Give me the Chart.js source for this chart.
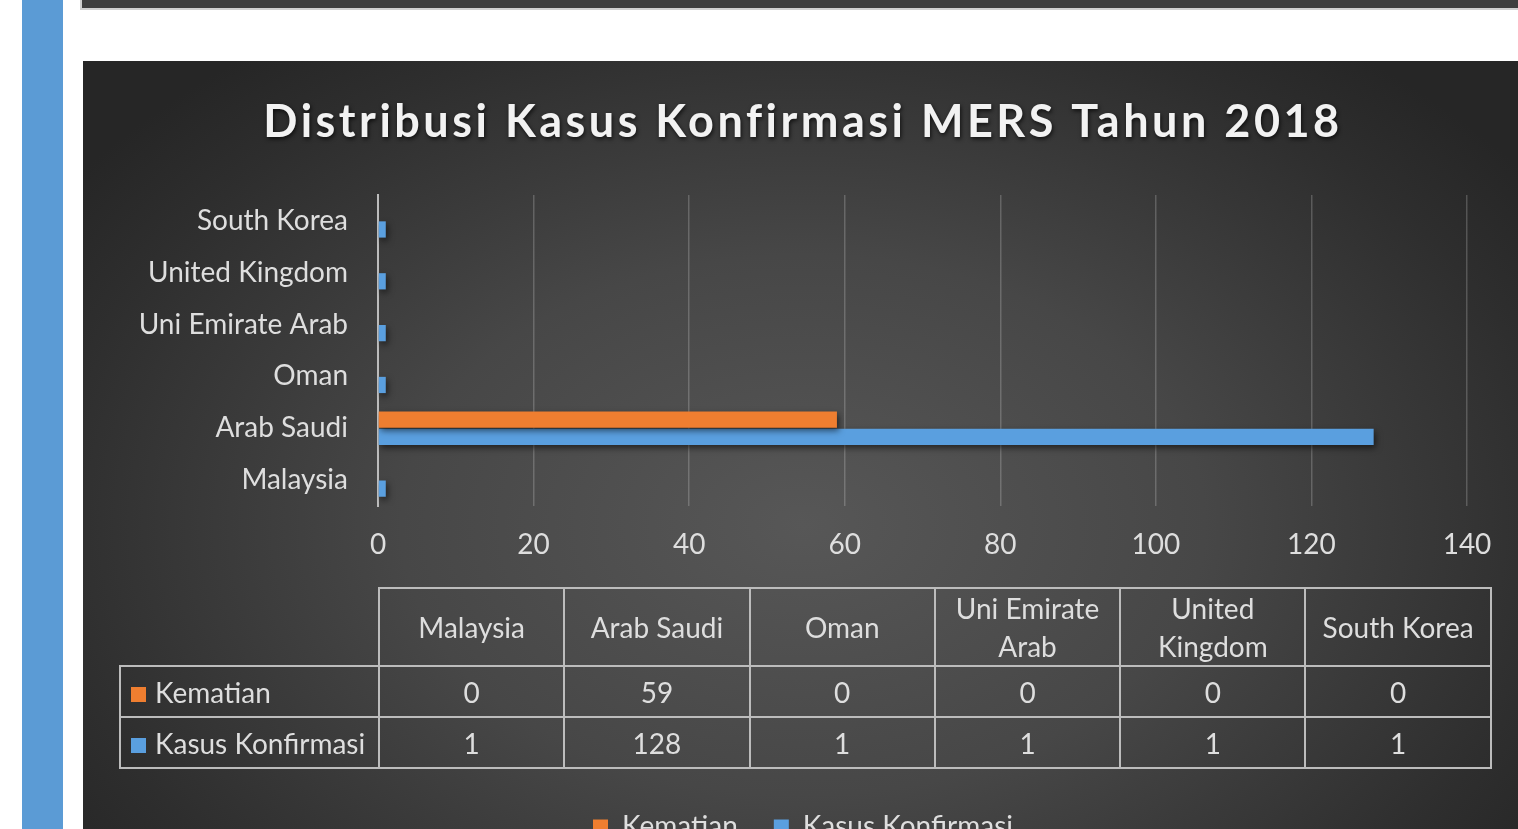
<!DOCTYPE html>
<html>
<head>
<meta charset="utf-8">
<script src="https://cdn.jsdelivr.net/npm/chart.js@4.4.0/dist/chart.umd.min.js"></script>
<style>
  html, body { margin: 0; padding: 0; background: #fff; width: 1518px; height: 829px; overflow: hidden; }
  .side { position: absolute; left: 22px; top: 0; width: 41px; height: 829px; background: #5b9bd5; }
  .topbar { position: absolute; left: 80px; top: 0; width: 1450px; height: 8px; background: #3e3e3e; border-left: 2px solid #cfcfcf; border-bottom: 2px solid #cfcfcf; }
  .panel {
    position: absolute; left: 83px; top: 61px; width: 1440px; height: 800px;
    background: radial-gradient(ellipse 62% 75% at 50% 58%, #575757 0%, #474747 45%, #2e2e2e 85%, #262626 100%);
  }
  .chart-box { position: absolute; left: 0; top: 0; width: 1440px; height: 790px; }
  #dataTable {
    position: absolute; left: 36px; top: 526px; width: 1371px;
    border-collapse: collapse; table-layout: fixed;
    font-family: Lato, 'Open Sans', sans-serif; font-size: 28px; color: #dedede;
  }
  #dataTable th, #dataTable td { border: 2px solid #bcbcbc; text-align: center; padding: 0 4px; font-weight: normal; line-height: 38px; }
  #dataTable th { height: 67px; }
  #dataTable td { height: 49px; }
  #dataTable td.blank { border: none; }
  #dataTable td.name { text-align: left; padding-left: 10px; white-space: nowrap; }
  .key { display: inline-block; width: 15px; height: 15px; margin-right: 9px; vertical-align: 1px; }
</style>
</head>
<body>
<div class="side"></div>
<div class="topbar"></div>
<div class="panel">
  <div class="chart-box"><canvas id="chart"></canvas></div>
  <table id="dataTable"></table>
</div>
<script>
const chartTitle = 'Distribusi Kasus Konfirmasi MERS Tahun 2018';
const countries = ['Malaysia', 'Arab Saudi', 'Oman', 'Uni Emirate Arab', 'United Kingdom', 'South Korea'];
const seriesNames = ['Kematian', 'Kasus Konfirmasi'];
const kematian = [0, 59, 0, 0, 0, 0];
const kasusKonfirmasi = [1, 128, 1, 1, 1, 1];
const xTicks = [0, 20, 40, 60, 80, 100, 120, 140];

const seriesColors = ['#ef7e30', '#5a9fdf'];
const FONT = "Lato, 'Open Sans', sans-serif";
const TEXT = '#dedede';

// data table under the chart, built from the same arrays
const table = document.getElementById('dataTable');
let rows = '<colgroup><col style="width:259px">' + countries.map(() => '<col style="width:185.3px">').join('') + '</colgroup>';
rows += '<tr><td class="blank"></td>' + countries.map(c => `<th>${c}</th>`).join('') + '</tr>';
[kematian, kasusKonfirmasi].forEach((vals, i) => {
  rows += `<tr><td class="name"><span class="key" style="background:${seriesColors[i]}"></span>${seriesNames[i]}</td>` +
    vals.map(v => `<td>${v}</td>`).join('') + '</tr>';
});
table.innerHTML = rows;

const barShadow = {
  id: 'barShadow',
  beforeDatasetsDraw(chart) {
    const ctx = chart.ctx;
    ctx.save();
    ctx.shadowColor = 'rgba(0,0,0,0.55)';
    ctx.shadowBlur = 6;
    ctx.shadowOffsetX = 2;
    ctx.shadowOffsetY = 3;
  },
  afterDatasetsDraw(chart) {
    chart.ctx.restore();
  }
};

const spacedTitle = {
  id: 'spacedTitle',
  afterLayout(chart) {
    const t = chart.titleBlock;
    if (!t || t._spaced) return;
    const draw = t.draw.bind(t);
    t.draw = function () {
      const ctx = chart.ctx;
      ctx.save();
      ctx.letterSpacing = '3.5px';
      ctx.shadowColor = 'rgba(0,0,0,0.7)';
      ctx.shadowBlur = 4;
      ctx.shadowOffsetX = 1;
      ctx.shadowOffsetY = 2;
      draw();
      ctx.restore();
    };
    t._spaced = true;
  }
};

new Chart(document.getElementById('chart'), {
  type: 'bar',
  data: {
    labels: countries,
    datasets: [
      { label: seriesNames[0], data: kematian, backgroundColor: seriesColors[0] },
      { label: seriesNames[1], data: kasusKonfirmasi, backgroundColor: seriesColors[1] }
    ]
  },
  options: {
    indexAxis: 'y',
    responsive: true,
    maintainAspectRatio: false,
    animation: false,
    layout: { padding: { left: 56, right: 56, top: 0, bottom: 0 } },
    datasets: { bar: { categoryPercentage: 0.66, barPercentage: 0.95 } },
    plugins: {
      title: {
        display: true,
        text: chartTitle,
        color: '#f2f2f2',
        font: { family: FONT, size: 45, weight: 'bold' },
        padding: { top: 34, bottom: 46 }
      },
      legend: {
        position: 'bottom',
        labels: { color: TEXT, font: { family: FONT, size: 28 }, boxWidth: 15, boxHeight: 15, padding: 36 }
      },
      tooltip: { enabled: false }
    },
    scales: {
      x: {
        min: 0,
        max: 140,
        afterBuildTicks(scale) { scale.ticks = xTicks.map(v => ({ value: v })); },
        afterFit(scale) { scale.height = 271; },
        grid: { color: 'rgba(255,255,255,0.2)', lineWidth: 1.5, drawTicks: false },
        border: { display: false },
        ticks: { color: TEXT, font: { family: FONT, size: 28 }, padding: 22 }
      },
      y: {
        reverse: true,
        afterFit(scale) { scale.width = 239; },
        grid: { display: false },
        border: { display: true, color: '#bcbcbc', width: 2 },
        ticks: { color: TEXT, font: { family: FONT, size: 28 }, padding: 22 }
      }
    }
  },
  plugins: [barShadow, spacedTitle]
});
</script>
</body>
</html>
